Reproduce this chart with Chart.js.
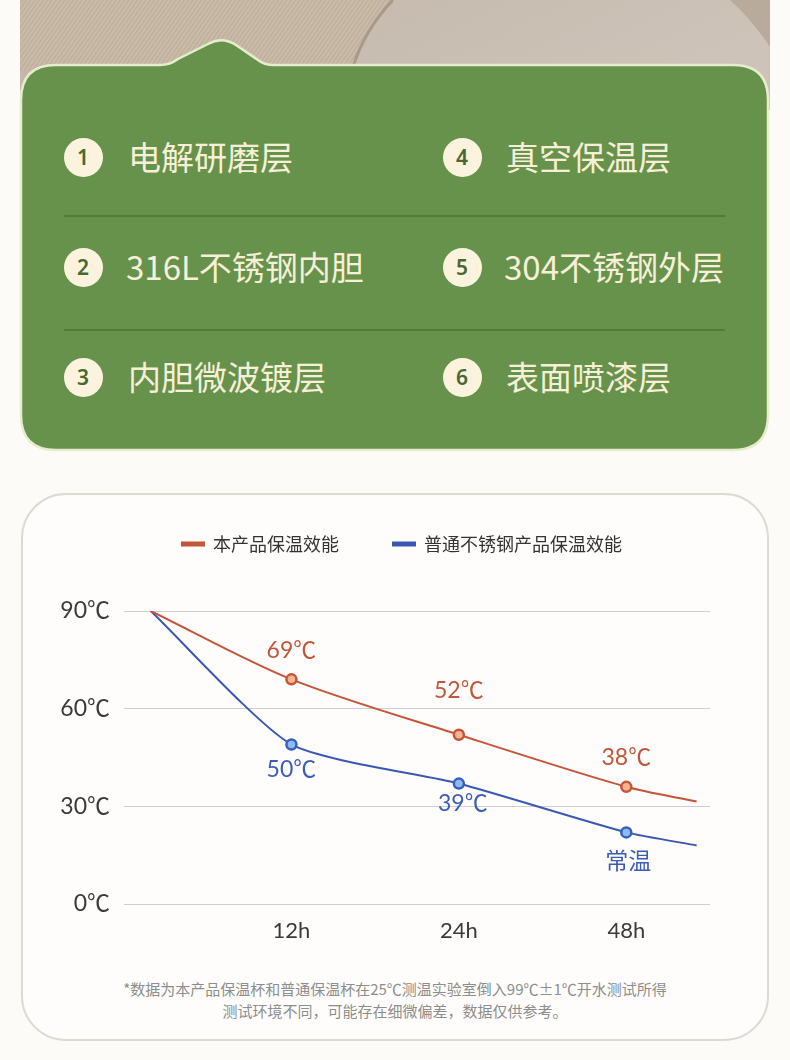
<!DOCTYPE html>
<html lang="zh">
<head>
<meta charset="utf-8">
<title>保温效能对比</title>
<script src="https://cdn.jsdelivr.net/npm/chart.js@4.4.1/dist/chart.umd.min.js"></script>
<style>
  html, body { margin: 0; padding: 0; }
  body {
    width: 790px;
    height: 1060px;
    position: relative;
    overflow: hidden;
    background: #fcfbf8;
    font-family: "Noto Sans CJK SC", "Noto Sans", sans-serif;
  }
  #top { position: absolute; left: 0; top: 0; }
  .badge {
    position: absolute;
    width: 39px;
    height: 39px;
    margin: -19.5px 0 0 -19.5px;
    border-radius: 50%;
    background: #fbf3de;
    color: #4a6831;
    font: 600 21px/39px "Noto Sans", sans-serif;
    text-align: center;
  }
  .layer {
    position: absolute;
    height: 40px;
    margin-top: -21px;
    color: #f7efd7;
    font-size: 33px;
    line-height: 40px;
    white-space: nowrap;
  }
  #card {
    position: absolute;
    left: 21px;
    top: 493px;
    width: 748px;
    height: 548px;
    box-sizing: border-box;
    border: 2px solid #dedad2;
    border-radius: 45px;
    background: #fefdfb;
  }
  #chart { position: absolute; left: 7px; top: 481px; }
  .note {
    position: absolute;
    left: 0;
    width: 790px;
    text-align: center;
    color: #8d8d8d;
    font-size: 15px;
    line-height: 22px;
    font-weight: 400;
  }
</style>
</head>
<body>

<svg id="top" width="790" height="470" viewBox="0 0 790 470">
  <defs>
    <pattern id="weave" width="3.5" height="3.5" patternUnits="userSpaceOnUse" patternTransform="rotate(35)">
      <rect width="3.5" height="3.5" fill="#cabca9"/>
      <rect width="1.2" height="3.5" fill="#bcac98"/>
    </pattern>
    <linearGradient id="sand" x1="0" y1="0" x2="1" y2="0.3">
      <stop offset="0" stop-color="#c2b5a8"/>
      <stop offset="1" stop-color="#cdc3b8"/>
    </linearGradient>
  </defs>
  <rect x="20" y="0" width="750" height="110" fill="url(#sand)"/>
  <path d="M20,0 L393,0 Q364,30 352,70 L20,70 Z" fill="url(#weave)"/>
  <path d="M393,0 Q364,30 352,70" fill="none" stroke="#a8998a" stroke-width="3"/>
  <path d="M730,0 Q752,20 770,47 L770,0 Z" fill="#b9ab9b"/>
  <path d="M21,100 Q21,65 56,65 L160,65 Q170,65 178,59 L208,44 Q222,36 236,45 L258,60 Q264,65 274,65 L733,65 Q768,65 768,100 L768,415 Q768,450 733,450 L56,450 Q21,450 21,415 Z"
        fill="#67924c" stroke="#e6edcc" stroke-width="2.5"/>
  <line x1="64" y1="216" x2="725" y2="216" stroke="#4f7c3b" stroke-width="2"/>
  <line x1="64" y1="330" x2="725" y2="330" stroke="#4f7c3b" stroke-width="2"/>
</svg>

<div class="badge" style="left:83px;top:157px">1</div>
<div class="layer" style="left:128px;top:157px">电解研磨层</div>
<div class="badge" style="left:462px;top:157px">4</div>
<div class="layer" style="left:506px;top:157px">真空保温层</div>
<div class="badge" style="left:83px;top:267px">2</div>
<div class="layer" style="left:126px;top:267px">316L不锈钢内胆</div>
<div class="badge" style="left:462px;top:267px">5</div>
<div class="layer" style="left:504px;top:267px">304不锈钢外层</div>
<div class="badge" style="left:83px;top:377px">3</div>
<div class="layer" style="left:128px;top:377px">内胆微波镀层</div>
<div class="badge" style="left:462px;top:377px">6</div>
<div class="layer" style="left:506px;top:377px">表面喷漆层</div>

<div id="card"></div>
<canvas id="chart" width="790" height="480"></canvas>

<div class="note" style="top:978px">*数据为本产品保温杯和普通保温杯在25℃测温实验室倒入99℃±1℃开水测试所得</div>
<div class="note" style="top:1000px">测试环境不同，可能存在细微偏差，数据仅供参考。</div>

<script>
// values
const timeLabels = ["", "12h", "24h", "48h", ""];
const timeSlots = [0.16, 1, 2, 3, 3.42];
const ourTemps = [90, 69, 52, 36, 31.5];
const steelTemps = [90, 49, 37, 22, 18];
const ourTags = ["", "69℃", "52℃", "38℃", ""];
const steelTags = ["", "50℃", "39℃", "常温", ""];
const tempTicks = [0, 30, 60, 90];
const seriesNames = ["本产品保温效能", "普通不锈钢产品保温效能"];

// label placement (style only)
const ourTagShift = [0, -29, -44, -29, 0];
const steelTagShift = [0, 25, 20, 29, 0];
const steelTagNudge = [0, 0, 4, 2, 0];

const RED = "#c4553a";
const BLUE = "#3a57b2";
const numFont = "Lato, 'Noto Sans CJK SC', sans-serif";

const toPoints = (vals) => vals.map((v, i) => ({ x: timeSlots[i], y: v }));
const markerSize = timeLabels.map((t) => (t ? 5 : 0));

// make room under the legend
const legendGap = {
  id: "legendGap",
  beforeInit(chart) {
    const fit = chart.legend.fit;
    chart.legend.fit = function () {
      fit.bind(chart.legend)();
      this.height = 130;
    };
  },
};

const pointTags = {
  id: "pointTags",
  afterDatasetsDraw(chart) {
    const ctx = chart.ctx;
    const sets = [
      { tags: ourTags, dy: ourTagShift, dx: [0, 0, 0, 0, 0], color: "#c0563c" },
      { tags: steelTags, dy: steelTagShift, dx: steelTagNudge, color: "#3d5cb8" },
    ];
    ctx.save();
    ctx.textAlign = "center";
    ctx.textBaseline = "middle";
    ctx.font = "23px " + numFont;
    sets.forEach((s, i) => {
      const meta = chart.getDatasetMeta(i);
      meta.data.forEach((pt, j) => {
        if (!s.tags[j]) return;
        ctx.fillStyle = s.color;
        ctx.fillText(s.tags[j], pt.x + s.dx[j], pt.y + s.dy[j]);
      });
    });
    ctx.restore();
  },
};

const ctx = document.getElementById("chart").getContext("2d");
new Chart(ctx, {
  type: "line",
  data: {
    datasets: [
      {
        label: seriesNames[0],
        data: toPoints(ourTemps),
        borderColor: RED,
        backgroundColor: RED,
        borderWidth: 2,
        tension: 0.3,
        pointRadius: markerSize,
        pointHoverRadius: markerSize,
        pointBorderWidth: 2.5,
        pointBorderColor: RED,
        pointBackgroundColor: "#f6b48f",
      },
      {
        label: seriesNames[1],
        data: toPoints(steelTemps),
        borderColor: BLUE,
        backgroundColor: BLUE,
        borderWidth: 2,
        tension: 0.2,
        pointRadius: markerSize,
        pointHoverRadius: markerSize,
        pointBorderWidth: 2.5,
        pointBorderColor: "#3a5fc0",
        pointBackgroundColor: "#8cbcf2",
      },
    ],
  },
  options: {
    responsive: false,
    animation: false,
    layout: { padding: 0 },
    plugins: {
      legend: {
        display: true,
        position: "top",
        labels: {
          boxWidth: 22,
          boxHeight: 3,
          padding: 54,
          color: "#333333",
          font: { size: 18, family: "'Noto Sans CJK SC', sans-serif" },
        },
      },
      tooltip: { enabled: false },
    },
    scales: {
      x: {
        type: "linear",
        min: 0,
        max: 3.5,
        afterBuildTicks: (axis) => {
          axis.ticks = timeSlots.filter((v, i) => timeLabels[i]).map((v) => ({ value: v }));
        },
        afterFit: (axis) => {
          axis.height = 57;
        },
        grid: { display: false, drawTicks: false },
        border: { display: false },
        ticks: {
          padding: 14,
          color: "#3a3a3a",
          font: { size: 22, family: numFont },
          callback: (v) => timeLabels[timeSlots.indexOf(v)],
        },
      },
      y: {
        min: 0,
        max: 90,
        afterBuildTicks: (axis) => {
          axis.ticks = tempTicks.map((v) => ({ value: v }));
        },
        afterFit: (axis) => {
          axis.width = 117;
        },
        grid: { color: "#cfcfcf", lineWidth: 1, drawTicks: false },
        border: { display: false },
        ticks: {
          padding: 14,
          color: "#3a3a3a",
          font: { size: 23, family: numFont },
          callback: (v) => v + "℃",
        },
      },
      yRight: {
        position: "right",
        min: 0,
        max: 90,
        afterFit: (axis) => {
          axis.width = 87;
        },
        grid: { display: false, drawTicks: false },
        border: { display: false },
        ticks: { display: false },
      },
    },
  },
  plugins: [legendGap, pointTags],
});
</script>
</body>
</html>
